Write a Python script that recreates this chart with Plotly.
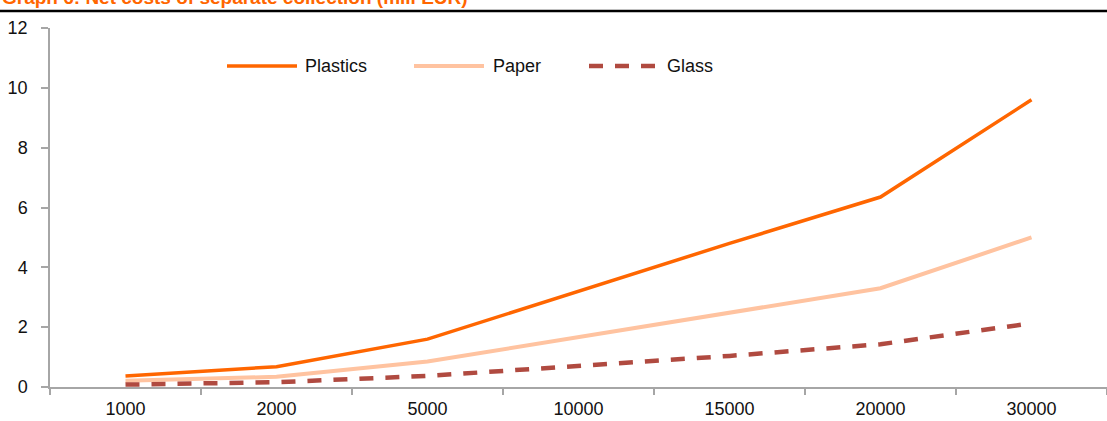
import plotly.graph_objects as go

# Municipality size categories (inhabitants)
categories = ["1000", "2000", "5000", "10000", "15000", "20000", "30000"]

# Net costs of separate collection, mill EUR
plastics = [0.37, 0.68, 1.60, 3.20, 4.80, 6.35, 9.60]
paper = [0.21, 0.34, 0.85, 1.67, 2.47, 3.30, 5.00]
glass = [0.08, 0.16, 0.37, 0.70, 1.04, 1.43, 2.13]

y_ticks = [0, 2, 4, 6, 8, 10, 12]

series = [
    ("Plastics", plastics, "#FF6600", 3.5, "solid"),
    ("Paper", paper, "#FFC3A0", 4, "solid"),
    ("Glass", glass, "#B04A40", 4.5, "14px,12px"),
]

W, H = 1107, 421
M = dict(l=50, r=0, t=28, b=34)
plot_w = W - M["l"] - M["r"]
plot_h = H - M["t"] - M["b"]


def px_x(px):
    return (px - M["l"]) / plot_w


def px_y(py):
    return (H - M["b"] - py) / plot_h


tick_font = dict(family="Liberation Sans Narrow, Arial Narrow, Liberation Sans, Arial", size=18, color="#111111")

fig = go.Figure()
for name, vals, color, width, dash in series:
    fig.add_trace(go.Scatter(
        x=categories, y=vals, mode="lines", name=name,
        line=dict(color=color, width=width, dash=dash),
        showlegend=False,
    ))

# Hand-placed legend row: sample line + label for each series
legend_pos = [(227, 297, 303), (414, 484, 491), (589, 658, 665)]
legend_y = 66
shapes = []
annotations = []
for (name, _, color, width, dash), (x0, x1, xt) in zip(series, legend_pos):
    shapes.append(dict(
        type="line", xref="paper", yref="paper",
        x0=px_x(x0), x1=px_x(x1), y0=px_y(legend_y), y1=px_y(legend_y),
        line=dict(color=color, width=width, dash=dash),
    ))
    annotations.append(dict(
        text=name, xref="paper", yref="paper", x=px_x(xt), y=px_y(legend_y),
        xanchor="left", yanchor="middle", showarrow=False, font=tick_font,
    ))

# Title rule across the top of the page
shapes.append(dict(
    type="line", xref="paper", yref="paper",
    x0=px_x(0), x1=px_x(W), y0=px_y(11), y1=px_y(11),
    line=dict(color="#000000", width=2.5),
))
annotations.append(dict(
    text="<b>Graph 6: Net costs of separate collection (mill EUR)</b>",
    xref="paper", yref="paper", x=px_x(0), y=px_y(10),
    xanchor="left", yanchor="bottom", showarrow=False,
    font=dict(family="Liberation Sans, Arial", size=19, color="#FF6600"),
))

fig.update_layout(
    width=W, height=H, margin=M,
    paper_bgcolor="white", plot_bgcolor="white",
    shapes=shapes, annotations=annotations,
    showlegend=False,
)
fig.update_xaxes(
    type="category", range=[-0.5, 6.5],
    showline=True, linecolor="#A6A6A6", linewidth=1.5,
    ticks="outside", tickson="boundaries", ticklen=6, tickcolor="#A6A6A6", tickwidth=1.5,
    showgrid=False, zeroline=False, tickfont=tick_font, ticklabelstandoff=5,
)
fig.update_yaxes(
    range=[0, 12], tickvals=y_ticks,
    showline=True, linecolor="#A6A6A6", linewidth=1.5,
    ticks="outside", ticklen=7, tickcolor="#A6A6A6", tickwidth=1.5,
    showgrid=False, zeroline=False, tickfont=tick_font, ticklabelstandoff=10,
)

fig.write_html("out.html")
